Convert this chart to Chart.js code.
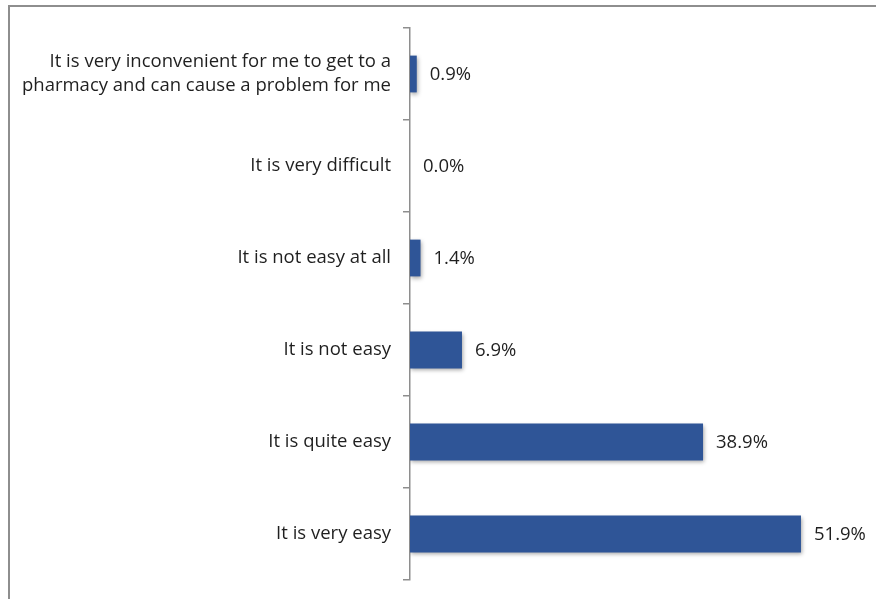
<!DOCTYPE html>
<html>
<head>
<meta charset="utf-8">
<script src="https://cdn.jsdelivr.net/npm/chart.js@4"></script>
<style>
  html, body { margin: 0; padding: 0; background: #fff; overflow: hidden; }
  #frame {
    position: absolute; left: 8px; top: 5px; width: 900px; height: 700px;
    border-left: 2px solid #8e8e8e; border-top: 2px solid #8e8e8e;
  }
  #wrap { position: absolute; left: 0; top: 0; width: 876px; height: 599px; }
</style>
</head>
<body>
<div id="frame"></div>
<div id="wrap"><canvas id="easeChart"></canvas></div>
<script>
// Survey answers, top to bottom
const answers = [
  ["It is very inconvenient for me to get to a", "pharmacy and can cause a problem for me"],
  "It is very difficult",
  "It is not easy at all",
  "It is not easy",
  "It is quite easy",
  "It is very easy",
];
const shares = [0.9, 0.0, 1.4, 6.9, 38.9, 51.9];

const labelFont = { family: "'Open Sans', sans-serif", size: 18.5, lineHeight: 1.3 };

// value labels at the end of each bar
const valueLabels = {
  id: "valueLabels",
  afterDatasetsDraw(chart) {
    const c = chart.ctx;
    const meta = chart.getDatasetMeta(0);
    c.save();
    c.font = labelFont.size + "px " + labelFont.family;
    c.fillStyle = "#1f1f1f";
    c.textAlign = "left";
    c.textBaseline = "middle";
    meta.data.forEach((bar, i) => {
      c.fillText(shares[i].toFixed(1) + "%", bar.x + 13, bar.y + 1);
    });
    c.restore();
  },
};

// soft drop shadow under the bars
const barShadow = {
  id: "barShadow",
  beforeDatasetsDraw(chart) {
    const c = chart.ctx;
    c.save();
    c.shadowColor = "rgba(0,0,0,0.35)";
    c.shadowBlur = 4;
    c.shadowOffsetX = 1;
    c.shadowOffsetY = 2;
  },
  afterDatasetsDraw(chart) {
    chart.ctx.restore();
  },
};

new Chart(document.getElementById("easeChart"), {
  type: "bar",
  data: {
    labels: answers,
    datasets: [{
      data: shares,
      backgroundColor: "#2f5597",
      categoryPercentage: 0.8,
      barPercentage: 0.5,
    }],
  },
  options: {
    indexAxis: "y",
    responsive: true,
    maintainAspectRatio: false,
    animation: false,
    layout: { padding: { left: 0, right: 14, top: 28, bottom: 19 } },
    plugins: { legend: { display: false }, tooltip: { enabled: false } },
    scales: {
      x: { display: false, min: 0, max: 60 },
      y: {
        afterFit(scale) {
          scale.width = 410;
          scale.paddingTop = 0;
          scale.paddingBottom = 0;
        },
        border: { color: "#8e8e8e", width: 1.5 },
        grid: { drawOnChartArea: false, tickLength: 7, color: "#8e8e8e", lineWidth: 1.5, offset: true },
        ticks: { color: "#1f1f1f", font: labelFont, padding: 12 },
      },
    },
  },
  plugins: [barShadow, valueLabels],
});
</script>
</body>
</html>
